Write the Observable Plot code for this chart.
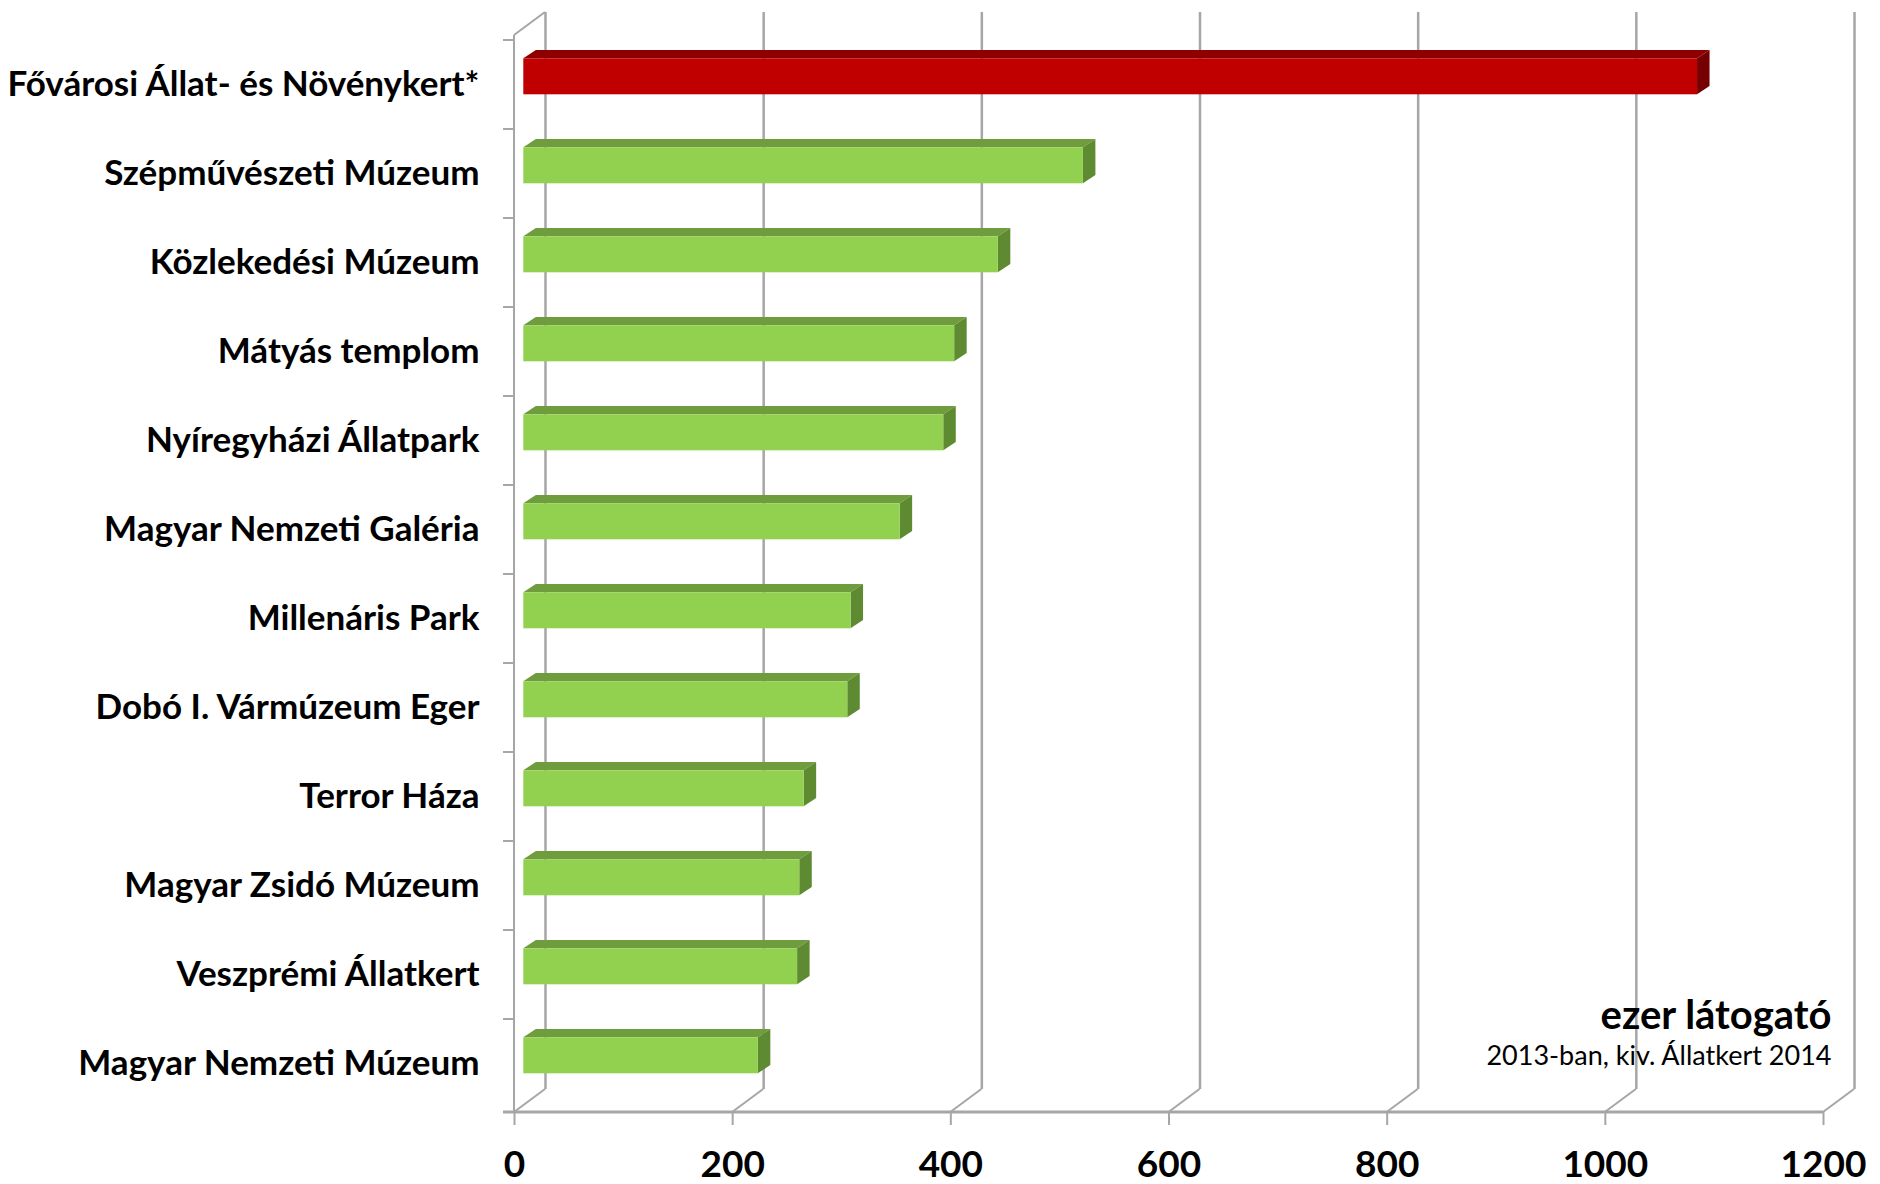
<!DOCTYPE html>
<html>
<head>
<meta charset="utf-8">
<script src="https://cdn.jsdelivr.net/npm/d3@7"></script>
<script src="https://cdn.jsdelivr.net/npm/@observablehq/plot@0.6"></script>
<style>
  html, body { margin: 0; padding: 0; background: #fff; }
  #chart svg { display: block; }
</style>
</head>
<body>
<div id="chart"></div>
<script>
// ---- data ----
const categories = [
  "Fővárosi Állat- és Növénykert*",
  "Szépművészeti Múzeum",
  "Közlekedési Múzeum",
  "Mátyás templom",
  "Nyíregyházi Állatpark",
  "Magyar Nemzeti Galéria",
  "Millenáris Park",
  "Dobó I. Vármúzeum Eger",
  "Terror Háza",
  "Magyar Zsidó Múzeum",
  "Veszprémi Állatkert",
  "Magyar Nemzeti Múzeum"
];
const visitors = [1076, 513, 435, 395, 385, 345, 300, 297, 257, 253, 251, 215];
const highlighted = [true, false, false, false, false, false, false, false, false, false, false, false];
const xTicks = [0, 200, 400, 600, 800, 1000, 1200];
const unitLabel = "ezer látogató";
const noteLabel = "2013-ban, kiv. Állatkert 2014";

const rows = categories.map((name, i) => ({name, value: visitors[i], hl: highlighted[i]}));

// ---- styling constants ----
const FONT = "Lato, 'Open Sans', sans-serif";
const GRID = "#a6a6a6";
const depth = {dx: 31, dy: -23};       // floor depth offset
const barOff = {dx: 9.3, dy: -8.2};    // bar front plane offset
const barDepth = {dx: 12.5, dy: -8.3}; // bar thickness
const barInset = 26.5;
const colors = {
  true: {front: "#c00000", top: "#8e0000", side: "#760000"},
  false: {front: "#92d050", top: "#6f9c3d", side: "#5e8a31"}
};

// 3D frame: floor slants, wall edge, category ticks, front axis line
function frame3d(index, scales, values, dims) {
  const x = scales.x, y = scales.y;
  const g = d3.create("svg:g").attr("fill", "none").attr("stroke", GRID).attr("stroke-width", 2);
  const top = dims.marginTop, bottom = dims.height - dims.marginBottom;
  const x0 = x(0);
  for (const t of xTicks) {
    g.append("line").attr("x1", x(t)).attr("y1", bottom)
      .attr("x2", x(t) + depth.dx).attr("y2", bottom + depth.dy);
  }
  g.append("line").attr("x1", x0).attr("y1", top).attr("x2", x0).attr("y2", bottom);
  g.append("line").attr("x1", x0).attr("y1", top).attr("x2", x0 + depth.dx).attr("y2", top + depth.dy);
  categories.forEach((c) => {
    const yy = y(c);
    g.append("line").attr("x1", x0 - 11).attr("y1", yy).attr("x2", x0).attr("y2", yy);
  });
  g.append("line").attr("x1", x0 - 11).attr("y1", bottom).attr("x2", x(xTicks[xTicks.length - 1])).attr("y2", bottom)
    .attr("stroke-width", 3);
  return g.node();
}

// bar top & side faces
function barFaces(index, scales) {
  const x = scales.x, y = scales.y;
  const bw = y.bandwidth();
  const g = d3.create("svg:g");
  for (const r of rows) {
    const c = colors[r.hl];
    const xa = x(0) + barOff.dx, xb = x(r.value) + barOff.dx;
    const yt = y(r.name) + barInset + barOff.dy;
    const yb = y(r.name) + bw - barInset + barOff.dy;
    const {dx, dy} = barDepth;
    g.append("polygon").attr("fill", c.top)
      .attr("points", [[xa, yt], [xa + dx, yt + dy], [xb + dx, yt + dy], [xb, yt]].join(" "));
    g.append("polygon").attr("fill", c.side)
      .attr("points", [[xb, yt], [xb + dx, yt + dy], [xb + dx, yb + dy], [xb, yb]].join(" "));
  }
  return g.node();
}

const chart = Plot.plot({
  width: 1880,
  height: 1184,
  marginLeft: 514,
  marginRight: 57,
  marginTop: 35,
  marginBottom: 72,
  style: {fontFamily: FONT, color: "#000", background: "#fff"},
  x: {domain: [0, 1200], axis: null},
  y: {domain: categories, padding: 0, axis: null},
  marks: [
    Plot.ruleX(xTicks, {stroke: GRID, strokeWidth: 2.5, dx: depth.dx, dy: depth.dy}),
    frame3d,
    barFaces,
    Plot.barX(rows, {
      x: "value", y: "name",
      fill: d => colors[d.hl].front,
      insetTop: barInset, insetBottom: barInset,
      dx: barOff.dx, dy: barOff.dy
    }),
    Plot.axisY({
      tickSize: 0, tickPadding: 35, label: null,
      fontSize: 35, fontWeight: "bold"
    }),
    Plot.axisX({
      ticks: xTicks, tickSize: 13, tickPadding: 25, label: null,
      fontSize: 37, fontWeight: "bold", stroke: GRID, strokeWidth: 2, tickFormat: d => String(d)
    }),
    Plot.text([unitLabel], {
      frameAnchor: "bottom-right", text: d => d, textAnchor: "end", lineAnchor: "bottom",
      dx: 8, dy: -84, fontSize: 40, fontWeight: "bold"
    }),
    Plot.text([noteLabel], {
      frameAnchor: "bottom-right", text: d => d, textAnchor: "end", lineAnchor: "bottom",
      dx: 8, dy: -48, fontSize: 27
    })
  ]
});

document.getElementById("chart").appendChild(chart);
</script>
</body>
</html>
